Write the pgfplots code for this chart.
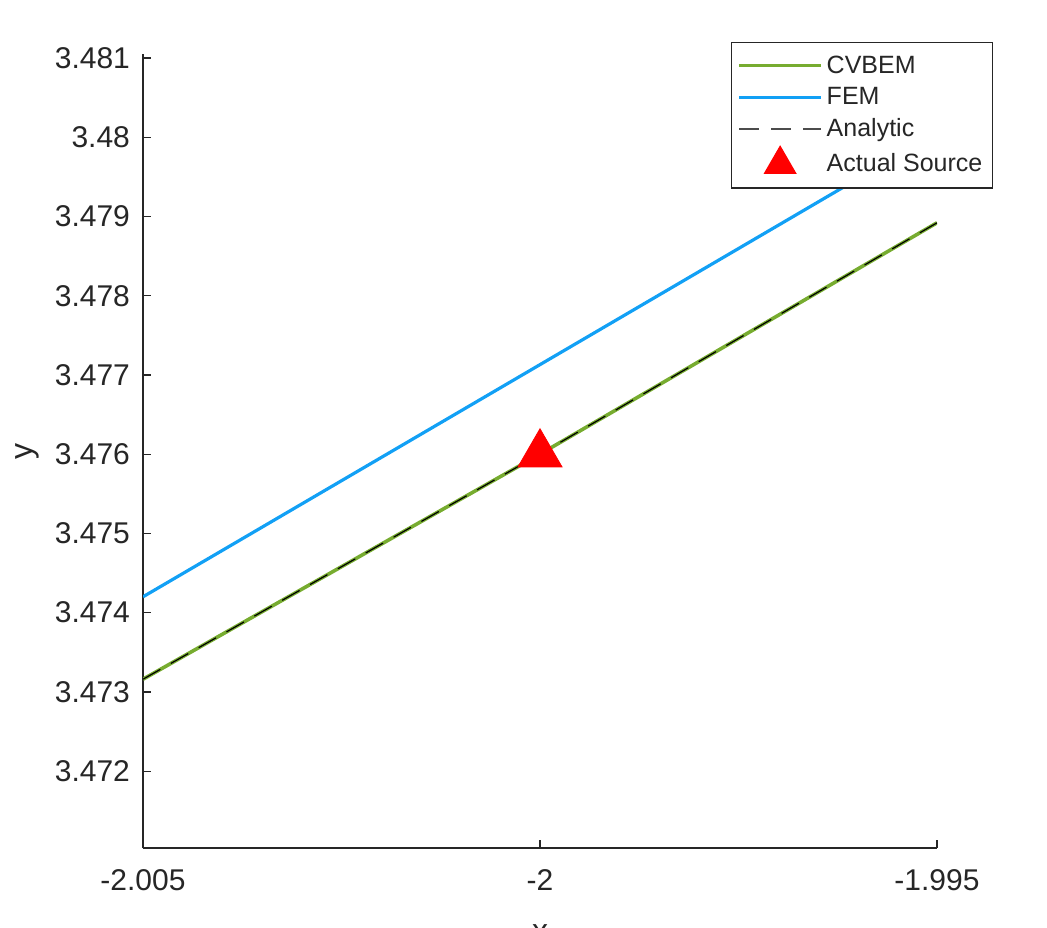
\documentclass[border=0pt]{standalone}
\usepackage{fontspec}
\setmainfont{Liberation Sans}
\usepackage{pgfplots}
\pgfplotsset{compat=1.18}
\definecolor{cvgreen}{RGB}{119,172,48}
\definecolor{femblue}{RGB}{18,160,245}
\definecolor{axgray}{RGB}{38,38,38}
\begin{document}
\begin{tikzpicture}[x=1pt,y=1pt]
\begin{axis}[
  at={(71.5pt,39.5pt)}, anchor=south west,
  scale only axis, width=397pt, height=397pt,
  xmin=-2.005, xmax=-1.995, ymin=3.47103, ymax=3.48105,
  axis x line=bottom, axis y line=left,
  axis line style={-, draw=axgray, line width=0.6pt},
  tick align=inside, major tick length=4pt,
  tick style={draw=axgray, line width=0.6pt},
  xtick={-2.005,-2,-1.995}, xticklabels={-2.005,-2,-1.995},
  ytick={3.472,3.473,3.474,3.475,3.476,3.477,3.478,3.479,3.48,3.481},
  yticklabels={3.472,3.473,3.474,3.475,3.476,3.477,3.478,3.479,3.48,3.481},
  ticklabel style={font=\fontsize{15}{18}\selectfont, text=axgray},
  xticklabel style={yshift=-7pt},
  yticklabel style={xshift=-3pt},
  xlabel={x}, ylabel={y},
  label style={font=\fontsize{16}{19}\selectfont, text=axgray},
  xlabel style={at={(axis description cs:0.5,-0.088)}, anchor=north},
  ylabel style={at={(axis description cs:-0.145,0.5)}, anchor=center},
  legend style={at={(rel axis cs:1.0705,1.0151)}, anchor=north east,
    draw=axgray, line width=0.6pt, fill=white,
    font=\fontsize{12.5}{15}\selectfont, text=axgray,
    inner xsep=3pt, inner ysep=4.5pt,
    row sep=1.5pt,
    legend cell align=left},
  legend image code/.code={\draw[#1] (0pt,0pt) -- (41pt,0pt);},
]
\addplot[femblue, line width=1.6pt, forget plot] coordinates {
 (-2.005,3.47420) (-2.0025,3.475665) (-2.0,3.47713) (-1.9975,3.478595) (-1.995,3.48006)};
\addplot[cvgreen, line width=1.8pt, forget plot] coordinates {
 (-2.005,3.47316) (-2.0025,3.47458) (-2.0,3.47600) (-1.9975,3.47746) (-1.995,3.47892)};
\addplot[black, line width=0.6pt, dash pattern=on 10pt off 6pt, forget plot] coordinates {
 (-2.005,3.47316) (-2.0025,3.47458) (-2.0,3.47600) (-1.9975,3.47746) (-1.995,3.47892)};
\addplot[only marks, mark=triangle*, mark size=12.7pt, mark options={fill=red, draw=red}, forget plot] coordinates {(-2.0,3.47600)};
\addlegendimage{cvgreen, line width=1.6pt}
\addlegendentry{CVBEM}
\addlegendimage{femblue, line width=1.6pt}
\addlegendentry{FEM}
\addlegendimage{black!70, line width=0.9pt, dash pattern=on 10pt off 6pt}
\addlegendentry{Analytic}
\addlegendimage{legend image code/.code={\draw[red, fill=red] plot[mark=triangle*, mark size=9pt] coordinates {(20.5pt,0pt)};}}
\addlegendentry{Actual Source}
\end{axis}
\pgfresetboundingbox
\useasboundingbox (0,0) rectangle (523.5pt,463.5pt);
\end{tikzpicture}
\end{document}
